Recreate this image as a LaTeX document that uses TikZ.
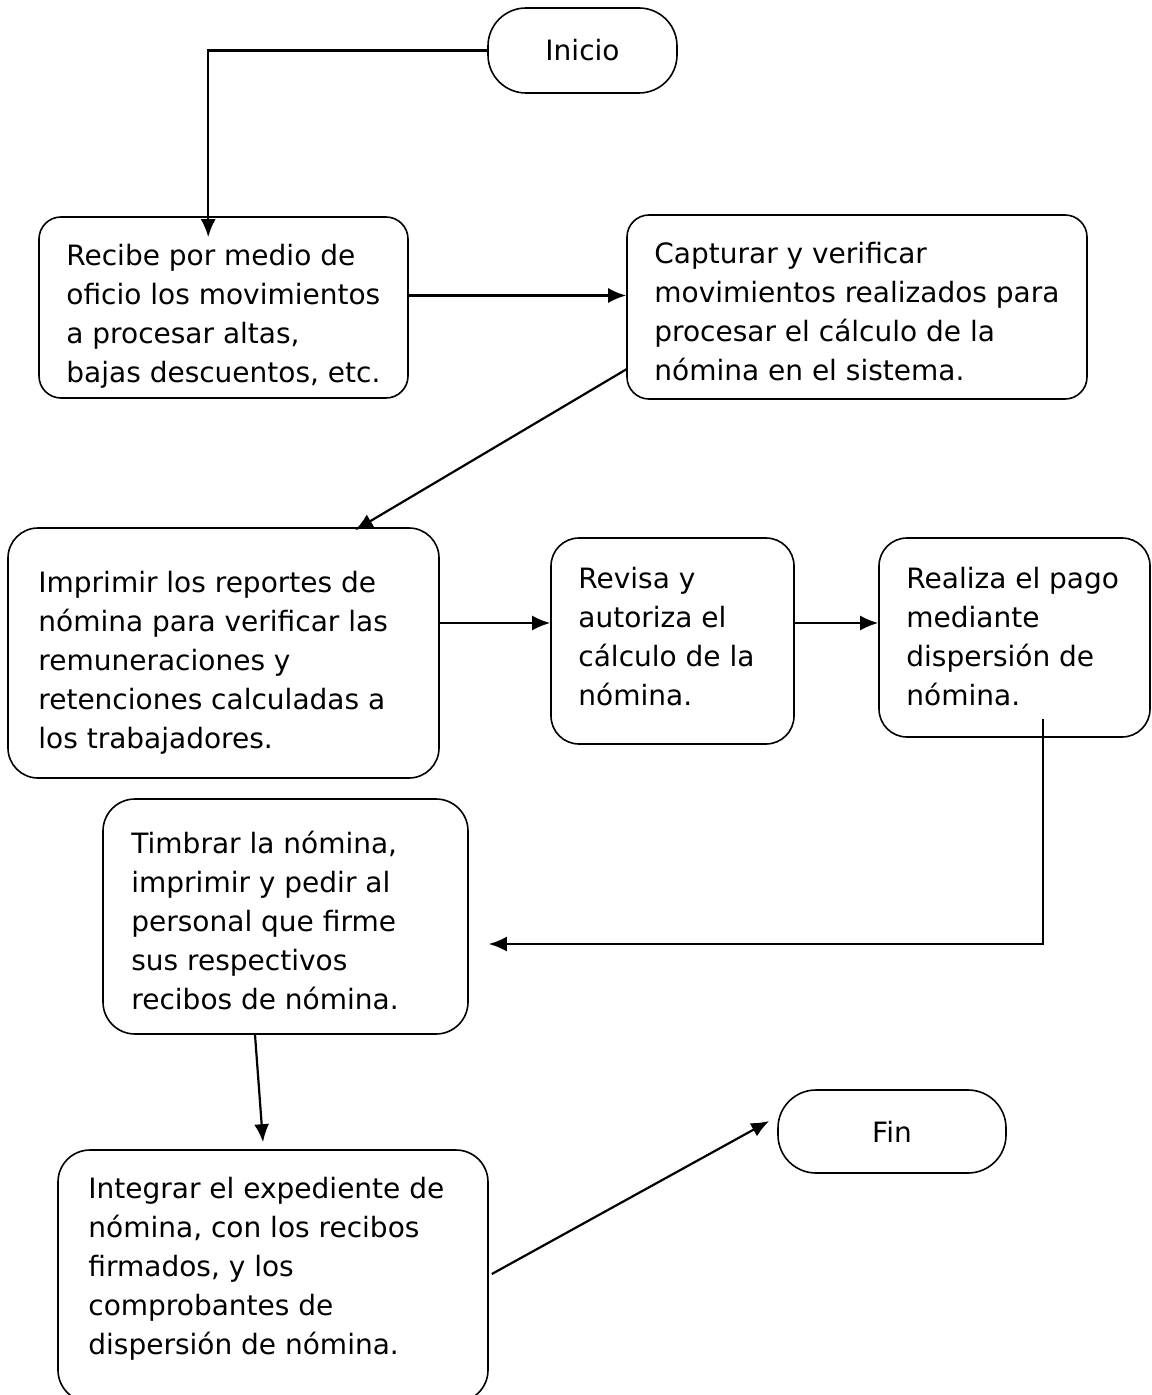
\documentclass[tikz,border=0pt]{standalone}
\usepackage{fontspec}
\setmainfont{DejaVu Sans}
\usetikzlibrary{arrows.meta,calc}
\begin{document}
\begin{tikzpicture}[x=0.5pt,y=-0.5pt,
  box/.style={draw, line width=0.8pt, rounded corners=14pt, inner sep=0pt},
  term/.style={draw, line width=0.8pt, rounded corners=19pt, inner sep=0pt, font=\fontsize{14}{19.5}\selectfont},
  txt/.style={inner sep=0pt, align=left, anchor=north west, font=\fontsize{14}{19.5}\selectfont},
  arr/.style={line width=1.1pt, -{Latex[length=9pt,width=7.5pt]}}]
\useasboundingbox (0,0) rectangle (1151,1395);
% terminals
\node[term, minimum width=94.5pt, minimum height=42.5pt] (ini) at (582.5,50.5) {Inicio};
\node[term, minimum width=114pt, minimum height=41.5pt] (fin) at (892,1131.5) {Fin};
% process boxes
\node[box, rounded corners=11pt, minimum width=184.5pt, minimum height=90.5pt] (b1) at (223.5,307.5) {};
\node[box, rounded corners=11pt, minimum width=230pt, minimum height=92pt] (b2) at (857,307) {};
\node[box, rounded corners=15pt, minimum width=215.5pt, minimum height=125pt] (b3) at (223.5,653) {};
\node[box, minimum width=121.5pt, minimum height=103pt] (b4) at (672.5,641) {};
\node[box, minimum width=135.5pt, minimum height=99.5pt] (b5) at (1014.5,637.5) {};
\node[box, rounded corners=16pt, minimum width=182.5pt, minimum height=117.5pt] (b6) at (285.5,916.5) {};
\node[box, rounded corners=16pt, minimum width=215pt, minimum height=126pt] (b7) at (273,1276) {};
% texts
\node[txt] (t1) at (66,237.7) {\strut Recibe por medio de\\oficio los movimientos\\a procesar altas,\\bajas descuentos, etc.};
\node[txt] (t2) at (654,235.7) {\strut Capturar y verificar\\movimientos realizados para\\procesar el cálculo de la\\nómina en el sistema.};
\node[txt] (t3) at (38,564.7) {\strut Imprimir los reportes de\\nómina para verificar las\\remuneraciones y\\retenciones calculadas a\\los trabajadores.};
\node[txt] (t4) at (578,560.7) {\strut Revisa y\\autoriza el\\cálculo de la\\nómina.};
\node[txt] (t5) at (906,560.7) {\strut Realiza el pago\\mediante\\dispersión de\\nómina.};
\node[txt] (t6) at (131,825.7) {\strut Timbrar la nómina,\\imprimir y pedir al\\personal que firme\\sus respectivos\\recibos de nómina.};
\node[txt] (t7) at (88,1170.7) {\strut Integrar el expediente de\\nómina, con los recibos\\firmados, y los\\comprobantes de\\dispersión de nómina.};
% helper coordinates
\coordinate (e1) at ($(b1.north west)+(170,21)$);
\coordinate (a12) at ($(b1.east)+(0,-12)$);
\coordinate (s23) at ($(b2.south west)+(1,-31)$);
\coordinate (e23) at ($(b3.north)+(131.5,3)$);
\coordinate (a34) at ($(b3.east)+(0,-30)$);
\coordinate (a45) at ($(b4.east)+(0,-18)$);
\coordinate (s56) at ($(b5.south west)+(165,-19)$);
\coordinate (e56) at ($(b6.east)+(20,27.5)$);
\coordinate (s67) at ($(b6.south)+(-30.5,0)$);
\coordinate (e67) at ($(b7.north)+(-10,-7)$);
\coordinate (s7f) at ($(b7.east)+(3,-2)$);
\coordinate (e7f) at ($(fin.west)+(-8,-10.5)$);
% connectors
\draw[arr] (ini.west) -| (e1);
\draw[arr] (a12) -- (a12 -| b2.west);
\draw[arr] (s23) -- (e23);
\draw[arr] (a34) -- (a34 -| b4.west);
\draw[arr] (a45) -- (a45 -| b5.west);
\draw[arr] (s56) |- (e56);
\draw[arr] (s67) -- (e67);
\draw[arr] (s7f) -- (e7f);
\end{tikzpicture}
\end{document}
